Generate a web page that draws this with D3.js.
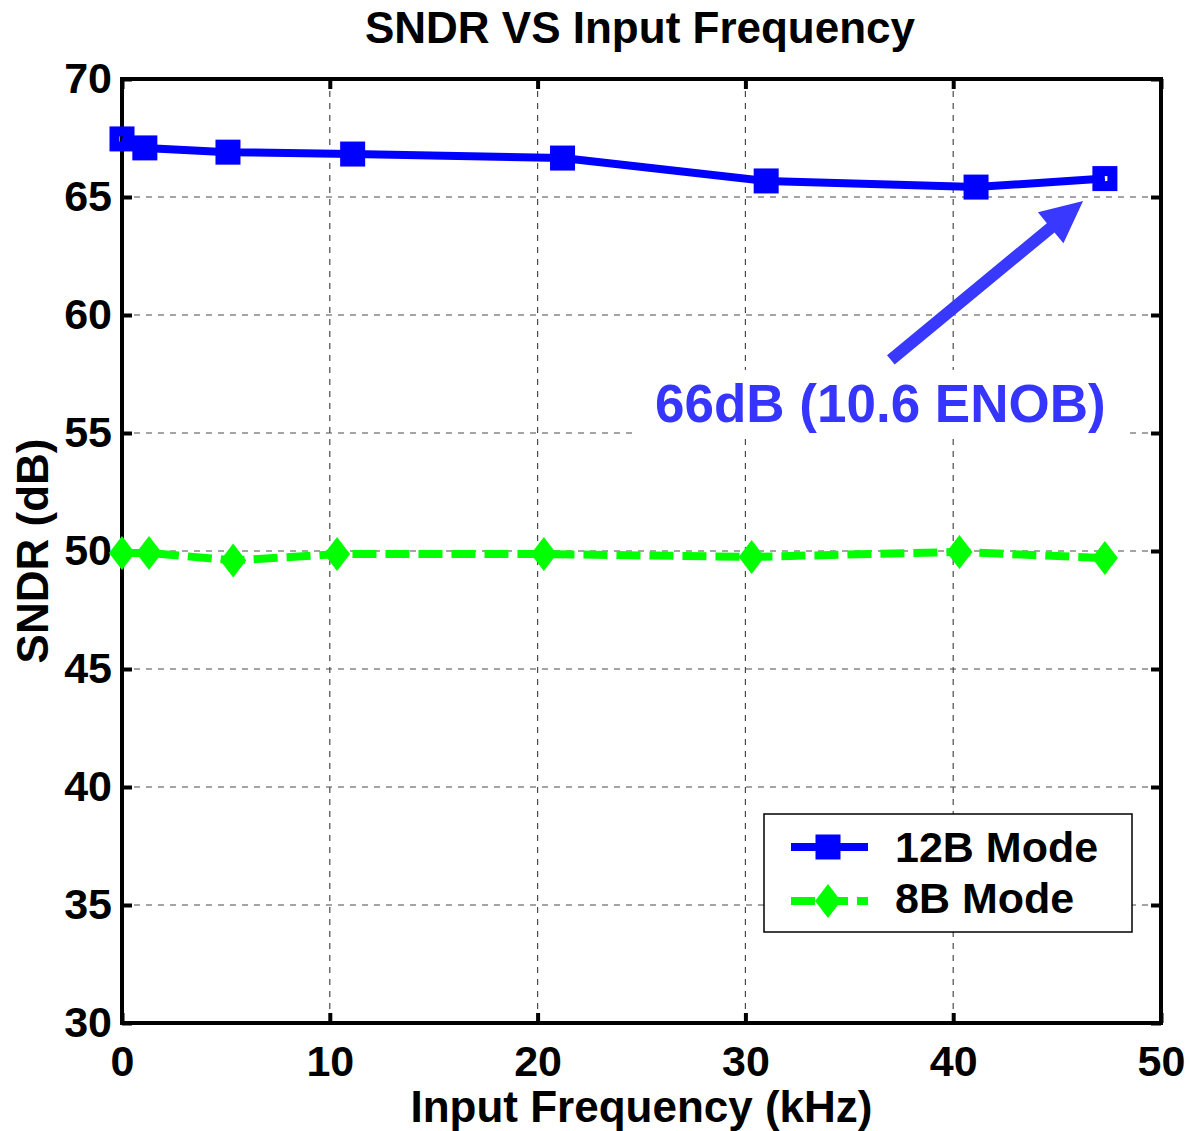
<!DOCTYPE html>
<html>
<head>
<meta charset="utf-8">
<script src="https://cdn.jsdelivr.net/npm/d3@7"></script>
<style>
  body { margin: 0; background: #fff; }
  text { font-family: Arial, 'Liberation Sans', Helvetica, sans-serif; font-weight: bold; }
</style>
</head>
<body>
<div id="chart"></div>
<script>
// SNDR vs input frequency, two modes
var freq12 = [0, 1.1, 5.1, 11.1, 21.2, 31.0, 41.1, 47.3]
var sndr12 = [67.46, 67.08, 66.9, 66.82, 66.65, 65.68, 65.42, 65.78]
var freq8 = [0, 1.3, 5.35, 10.35, 20.3, 30.3, 40.3, 47.3]
var sndr8 = [49.92, 49.92, 49.6, 49.87, 49.87, 49.75, 49.96, 49.7]
var xTicks = [0, 10, 20, 30, 40, 50]
var yTicks = [30, 35, 40, 45, 50, 55, 60, 65, 70]
var seriesNames = ['12B Mode', '8B Mode']
var noteText = '66dB (10.6 ENOB)'
var arrowFrom = [37.0, 58.1], arrowTo = [46.25, 64.83]
var notePos = [25.65, 55.47]

var W = 1190, H = 1131
var margin = {top: 79, left: 122, right: 29, bottom: 108}

var svg = d3.select('#chart').append('svg').attr('width', W).attr('height', H)

var x = d3.scaleLinear().domain([0, 50]).range([margin.left, W - margin.right])
var y = d3.scaleLinear().domain([30, 70]).range([H - margin.bottom, margin.top])

var x0 = x.range()[0], x1 = x.range()[1], y0 = y.range()[0], y1 = y.range()[1]

// grid
var grid = svg.append('g').attr('stroke', '#4a4a4a').attr('stroke-width', 1.2).attr('stroke-dasharray', '6,6')
grid.selectAll('.gx').data(xTicks.slice(1, -1)).enter().append('line')
	.attr('x1', function(d){ return x(d) }).attr('x2', function(d){ return x(d) })
	.attr('y1', y1).attr('y2', y0)
grid.selectAll('.gy').data(yTicks.slice(1, -1)).enter().append('line')
	.attr('y1', function(d){ return y(d) }).attr('y2', function(d){ return y(d) })
	.attr('x1', x0).attr('x2', x1)

// axes (ticks inward, box on)
var ax = svg.append('g')
ax.append('g').attr('transform', 'translate(0,' + y0 + ')')
	.call(d3.axisBottom(x).tickValues(xTicks).tickSize(-10).tickPadding(22).tickFormat(d3.format('d')))
ax.append('g').attr('transform', 'translate(0,' + y1 + ')')
	.call(d3.axisTop(x).tickValues(xTicks).tickSize(-10).tickFormat(''))
ax.append('g').attr('transform', 'translate(' + x0 + ',0)')
	.call(d3.axisLeft(y).tickValues(yTicks).tickSize(-10).tickPadding(10).tickFormat(d3.format('d')))
ax.append('g').attr('transform', 'translate(' + x1 + ',0)')
	.call(d3.axisRight(y).tickValues(yTicks).tickSize(-10).tickFormat(''))
ax.selectAll('.domain').remove()
ax.selectAll('.tick line').attr('stroke', '#000').attr('stroke-width', 4)
ax.selectAll('.tick text').attr('fill', '#000').style('font-size', '43px')
ax.append('rect').attr('x', x0).attr('y', y1).attr('width', x1 - x0).attr('height', y0 - y1)
	.attr('fill', 'none').attr('stroke', '#000').attr('stroke-width', 4)

// annotation
var ann = svg.append('g')
var note = ann.append('text').attr('x', x(notePos[0])).attr('y', y(notePos[1]))
	.attr('fill', '#3535ff').style('font-size', '53px').text(noteText)
var bb = note.node().getBBox()
ann.insert('rect', 'text').attr('x', bb.x - 20).attr('y', bb.y - 4)
	.attr('width', bb.width + 40).attr('height', bb.height + 8).attr('fill', '#fff')

var ax0 = x(arrowFrom[0]), ay0 = y(arrowFrom[1]), ax1 = x(arrowTo[0]), ay1 = y(arrowTo[1])
var ang = Math.atan2(ay1 - ay0, ax1 - ax0)
var len = Math.hypot(ax1 - ax0, ay1 - ay0)
var headL = 42, headW = 20, shaftW = 6
ann.append('path')
	.attr('transform', 'translate(' + ax0 + ',' + ay0 + ') rotate(' + (ang * 180 / Math.PI) + ')')
	.attr('d', 'M0,' + (-shaftW) + 'L' + (len - headL) + ',' + (-shaftW) + 'L' + (len - headL) + ',' + (-headW) +
		'L' + len + ',0L' + (len - headL) + ',' + headW + 'L' + (len - headL) + ',' + shaftW + 'L0,' + shaftW + 'Z')
	.attr('fill', '#3838ff')

// series
var d12 = freq12.map(function(f, i){ return [f, sndr12[i]] })
var d8 = freq8.map(function(f, i){ return [f, sndr8[i]] })
var line = d3.line().x(function(d){ return x(d[0]) }).y(function(d){ return y(d[1]) })

svg.append('path').datum(d12).attr('d', line).attr('fill', 'none')
	.attr('stroke', '#0000ff').attr('stroke-width', 8).attr('stroke-linejoin', 'round')
svg.append('path').datum(d8).attr('d', line).attr('fill', 'none')
	.attr('stroke', '#00ff00').attr('stroke-width', 8).attr('stroke-dasharray', '24,9')

var square = function(g) {
	g.append('rect').attr('x', -7.5).attr('y', -7.5).attr('width', 15).attr('height', 15)
		.attr('fill', 'none').attr('stroke', '#0000ff').attr('stroke-width', 10)
}
var diamond = function(g) {
	g.append('path').attr('d', 'M0,-17L13,0L0,17L-13,0Z').attr('fill', '#00ff00')
}

svg.selectAll('.m12').data(d12).enter().append('g')
	.attr('transform', function(d){ return 'translate(' + x(d[0]) + ',' + y(d[1]) + ')' })
	.each(function(){ square(d3.select(this)) })
svg.selectAll('.m8').data(d8).enter().append('g')
	.attr('transform', function(d){ return 'translate(' + x(d[0]) + ',' + y(d[1]) + ')' })
	.each(function(){ diamond(d3.select(this)) })

// legend
var lg = svg.append('g').attr('transform', 'translate(764,814)')
lg.append('rect').attr('width', 368).attr('height', 118).attr('fill', '#fff').attr('stroke', '#000').attr('stroke-width', 1.5)
lg.append('line').attr('x1', 27).attr('x2', 104).attr('y1', 33).attr('y2', 33).attr('stroke', '#0000ff').attr('stroke-width', 8)
square(lg.append('g').attr('transform', 'translate(64,33)'))
lg.append('line').attr('x1', 27).attr('x2', 104).attr('y1', 87).attr('y2', 87).attr('stroke', '#00ff00').attr('stroke-width', 8).attr('stroke-dasharray', '24,9')
diamond(lg.append('g').attr('transform', 'translate(64,87)'))
lg.selectAll('.lt').data(seriesNames).enter().append('text')
	.attr('x', 131).attr('y', function(d, i){ return 48 + i * 51 })
	.style('font-size', '43px').text(function(d){ return d })

// titles
svg.append('text').attr('x', 640).attr('y', 43).attr('text-anchor', 'middle')
	.style('font-size', '44px').text('SNDR VS Input Frequency')
svg.append('text').attr('x', (x0 + x1) / 2).attr('y', 1122).attr('text-anchor', 'middle')
	.style('font-size', '44px').text('Input Frequency (kHz)')
svg.append('text').attr('transform', 'translate(48,' + ((y0 + y1) / 2) + ') rotate(-90)').attr('text-anchor', 'middle')
	.style('font-size', '44px').text('SNDR (dB)')
</script>
</body>
</html>
